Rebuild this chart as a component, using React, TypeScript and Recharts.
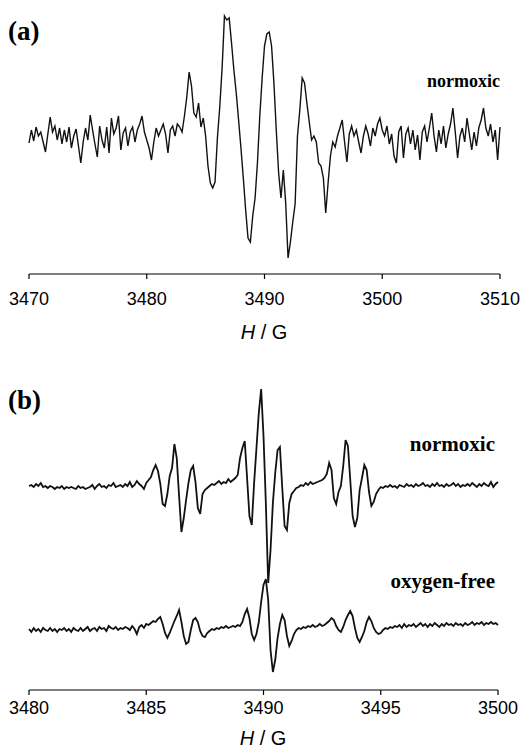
import { LineChart, Line, XAxis, YAxis } from "recharts";

// (a) field axis, 0.2 G sampling
const fieldA = Array.from({ length: 201 }, (_, i) => Math.round((3470 + i * 0.2) * 10) / 10);
const ticksA = [3470, 3480, 3490, 3500, 3510];

// (a) normoxic spectrum (arbitrary units)
const normoxicA = [
  -5, 8, -3, 11, 2, 6, -4, -14, 4, 21,
  6, 12, -2, 10, -6, 8, -4, 11, -10, 2,
  9, -8, -25, -4, 10, -2, 23, 8, -6, -19,
  12, -2, -10, 11, -15, 20, 4, 10, 22, -12,
  5, 10, -8, 6, 11, -4, 8, 14, 22, 6,
  -2, -10, -22, -4, 10, 2, 8, 14, 4, -15,
  8, 12, 2, 14, 11, 6, 22, 41, 66, 52,
  25, 21, 35, 11, 20, 2, -28, -45, -50, -44,
  0, 31, 70, 122, 118, 120, 95, 68, 45, 18,
  -10, -40, -72, -100, -104, -78, -60, -25, 22, 60,
  92, 104, 106, 92, 55, 8, -35, -60, -32, -65,
  -120, -104, -84, -66, 2, 28, 60, 55, 35, 16,
  -2, 2, -4, -25, -28, -40, -75, -45, -18, -4,
  -9, 2, 10, 18, -4, -24, 4, 12, 2, 8,
  -4, -15, 2, 12, 4, -8, 10, 2, 14, 20,
  8, 2, 12, -6, 4, -18, -25, 6, 12, -20,
  4, 10, -6, 8, -12, 3, -22, 6, 12, -4,
  10, 25, 2, -14, 8, -6, 12, -10, 4, 14,
  30, 6, -20, 2, 10, -4, 20, 4, -12, 6,
  -8, 10, 18, 30, 10, 2, 14, -4, 8, -22,
  11,
];

// (b) field axis, 0.1 G sampling
const fieldB = Array.from({ length: 201 }, (_, i) => Math.round((3480 + i * 0.1) * 10) / 10);
const ticksB = [3480, 3485, 3490, 3495, 3500];

const normoxicB = [
  2, 3, 1, 4, 2, 5, 1, 2, 0, 2,
  1, -1, 1, 0, 2, -1, 1, 0, 1, 0,
  -1, 2, 0, 1, -1, 0, 1, 3, -1, 2,
  4, 1, 2, 0, 3, 2, 5, 1, 2, 3,
  1, 4, 2, 6, 1, 3, 7, 4, 2, -1,
  5, 8, 11, 18, 23, 17, 4, -16, -18, -6,
  12, 20, 44, 30, -8, -44, -30, -12, 5, 18,
  22, 6, -20, -26, -6, -2, 0, 2, 4, 3,
  5, 7, 4, 6, 5, 9, 6, 8, 10, 13,
  30, 40, 47, 10, -28, -37, 5, 40, 75, 99,
  52, -15, -95, -62, -15, 15, 38, 41, 0, -38,
  -42, -15, -6, -3, 0, 1, 3, 2, 5, 3,
  6, 4, 5, 6, 7, 8, 10, 14, 25, 18,
  -10, -16, -4, 2, 22, 48, 42, 8, -28, -39,
  -30, -2, 10, 23, 18, -4, -18, -14, -6, -2,
  1, 0, 2, 1, 3, 1, 2, 0, 3, 2,
  1, 4, 2, 3, 1, 4, 2, 3, 5, 2,
  3, 1, 4, 2, 5, 2, 3, 1, 4, 2,
  3, 5, 2, 4, 1, 3, 2, 4, 2, 5,
  3, 1, 4, 2, 5, 3, 2, 6, 1, 4,
  6,
];

const oxygenFreeB = [
  1, -2, 2, -1, 1, -2, 2, 0, -1, 2,
  -1, 1, -2, 1, 0, 2, -1, 1, -2, 2,
  0, -1, 2, -1, 1, 3, -1, 1, 2, -1,
  3, 1, 2, -1, 4, 2, 1, 3, 0, 2,
  1, 3, 2, 0, 4, 1, -4, 3, 5, 2,
  6, 5, 7, 9, 8, 11, 13, 6, -3, -8,
  -3, 3, 9, 14, 20, 8, -6, -14, -12, 0,
  10, 12, 8, -1, -6, -7, -3, -1, 1, 0,
  2, 1, 3, 2, 4, 2, 3, 4, 3, 5,
  4, 8, 16, 21, 12, -4, -10, -4, 8, 28,
  45, 51, 30, -20, -42, -30, -8, 6, 15, 10,
  -6, -16, -11, -4, 0, 2, 1, 3, 2, 4,
  3, 5, 3, 4, 6, 4, 5, 7, 9, 12,
  10, 4, 0, -2, 3, 10, 15, 19, 14, 2,
  -8, -12, -7, -1, 8, 13, 9, 2, -2, -4,
  -3, 0, 2, 1, 3, 2, 4, 3, 5, 2,
  6, 3, 5, 4, 6, 3, 5, 7, 4, 6,
  3, 6, 4, 7, 5, 3, 6, 4, 7, 5,
  6, 4, 7, 5, 6, 4, 7, 5, 6, 8,
  5, 7, 6, 8, 5, 7, 6, 8, 6, 7,
  5,
];

const dataA = fieldA.map((f, i) => ({ field: f, normoxic: normoxicA[i] }));
const dataB = fieldB.map((f, i) => ({
  field: f,
  normoxic: normoxicB[i],
  oxygenFree: oxygenFreeB[i],
}));

const sans = '"Liberation Sans", Arial, sans-serif';
const serif = '"Liberation Serif", "Times New Roman", serif';
const tickStyle = { fontFamily: sans, fontSize: 18, fill: "#000" };

const abs = (top: number, extra: object) => ({
  position: "absolute" as const,
  top,
  whiteSpace: "nowrap" as const,
  ...extra,
});

const PanelLabel = ({ text, top }: { text: string; top: number }) => (
  <div
    style={abs(top, {
      left: 8,
      fontFamily: serif,
      fontWeight: "bold",
      fontSize: 27,
      lineHeight: "27px",
    })}
  >
    {text}
  </div>
);

const SeriesLabel = ({ text, top, right, size }: { text: string; top: number; right: number; size: number }) => (
  <div
    style={abs(top, {
      right,
      fontFamily: serif,
      fontWeight: "bold",
      fontSize: size,
      lineHeight: `${size}px`,
    })}
  >
    {text}
  </div>
);

const AxisTitle = ({ top, center }: { top: number; center: number }) => (
  <div
    style={abs(top, {
      left: center - 100,
      width: 200,
      textAlign: "center",
      fontFamily: sans,
      fontSize: 20,
      lineHeight: "20px",
    })}
  >
    <span style={{ fontStyle: "italic" }}>H</span> / G
  </div>
);

export default function App() {
  return (
    <div style={{ position: "absolute", left: 0, top: 0, width: 523, height: 755, background: "#fff" }}>
      <div style={{ position: "absolute", left: 0, top: 0 }}>
        <LineChart width={523} height={340} data={dataA} margin={{ top: 5, right: 23, left: 29, bottom: 36 }}>
          <XAxis
            dataKey="field"
            type="number"
            domain={[3470, 3510]}
            ticks={ticksA}
            interval={0}
            tick={tickStyle}
            tickSize={5}
            tickMargin={13}
            height={30}
            axisLine={{ stroke: "#000", strokeWidth: 1.2 }}
            tickLine={{ stroke: "#000", strokeWidth: 1.2 }}
          />
          <YAxis hide domain={[-136, 133]} allowDataOverflow />
          <Line
            type="linear"
            dataKey="normoxic"
            stroke="#111"
            strokeWidth={1.4}
            dot={false}
            isAnimationActive={false}
          />
        </LineChart>
      </div>

      <div style={{ position: "absolute", left: 0, top: 350 }}>
        <LineChart width={523} height={400} data={dataB} margin={{ top: 20, right: 25, left: 29, bottom: 30 }}>
          <XAxis
            dataKey="field"
            type="number"
            domain={[3480, 3500]}
            ticks={ticksB}
            interval={0}
            tick={tickStyle}
            tickSize={5}
            tickMargin={6}
            height={30}
            axisLine={{ stroke: "#000", strokeWidth: 1.2 }}
            tickLine={{ stroke: "#000", strokeWidth: 1.2 }}
          />
          <YAxis yAxisId="n" hide domain={[-202, 118]} allowDataOverflow />
          <YAxis yAxisId="o" hide domain={[-60, 260]} allowDataOverflow />
          <Line
            yAxisId="n"
            type="linear"
            dataKey="normoxic"
            stroke="#111"
            strokeWidth={1.8}
            dot={false}
            isAnimationActive={false}
          />
          <Line
            yAxisId="o"
            type="linear"
            dataKey="oxygenFree"
            stroke="#111"
            strokeWidth={1.8}
            dot={false}
            isAnimationActive={false}
          />
        </LineChart>
      </div>

      <PanelLabel text="(a)" top={18} />
      <SeriesLabel text="normoxic" top={72} right={23} size={18} />
      <AxisTitle top={322} center={264} />

      <PanelLabel text="(b)" top={387} />
      <SeriesLabel text="normoxic" top={434} right={28} size={21} />
      <SeriesLabel text="oxygen-free" top={571} right={28} size={21} />
      <AxisTitle top={728} center={263} />
    </div>
  );
}
